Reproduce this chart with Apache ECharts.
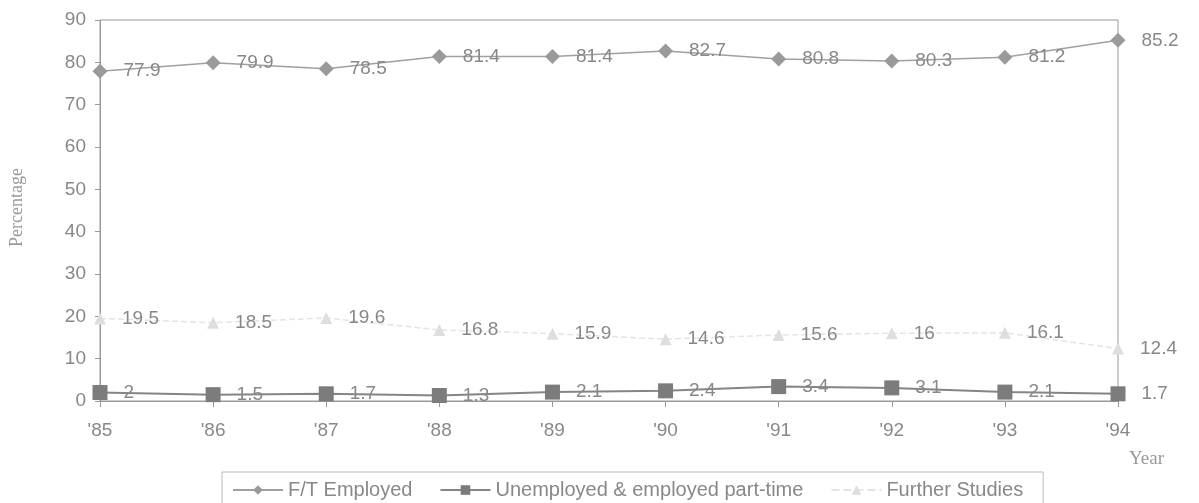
<!DOCTYPE html>
<html>
<head>
<meta charset="utf-8">
<script src="https://cdn.jsdelivr.net/npm/echarts@6/dist/echarts.min.js"></script>
<style>
html,body{margin:0;padding:0;background:#fff;}
#chart{width:1199px;height:503px;}
</style>
</head>
<body>
<div id="chart"></div>
<script>
var years = ["'85","'86","'87","'88","'89","'90","'91","'92","'93","'94"];
var ftEmployed = [77.9, 79.9, 78.5, 81.4, 81.4, 82.7, 80.8, 80.3, 81.2, 85.2];
var unemployed = [2, 1.5, 1.7, 1.3, 2.1, 2.4, 3.4, 3.1, 2.1, 1.7];
var furtherStudies = [19.5, 18.5, 19.6, 16.8, 15.9, 14.6, 15.6, 16, 16.1, 12.4];
var seriesNames = ['F/T Employed', 'Unemployed & employed part-time', 'Further Studies'];

var labelColor = '#888';
var sansFont = '"Liberation Sans", Arial, sans-serif';
var serifFont = '"Liberation Serif", "Times New Roman", serif';

function lbl() {
  return {show: true, position: 'right', distance: 16, color: labelColor, fontSize: 19, fontFamily: sansFont};
}

var chart = echarts.init(document.getElementById('chart'), null, {renderer: 'canvas'});
chart.setOption({
  animation: false,
  backgroundColor: '#fff',
  grid: {left: 100, right: 81, top: 20, bottom: 102, show: true, borderColor: '#999', borderWidth: 1, backgroundColor: 'transparent'},
  legend: {
    left: 222, top: 472,
    padding: [8, 20, 12, 10],
    itemGap: 27, itemWidth: 50, itemHeight: 12,
    borderColor: '#bbb', borderWidth: 1,
    textStyle: {color: labelColor, fontSize: 20, fontFamily: sansFont},
    data: seriesNames
  },
  xAxis: {
    type: 'category', data: years, boundaryGap: false,
    axisLine: {lineStyle: {color: '#999', width: 1}},
    axisTick: {show: true, alignWithLabel: true, length: 6, lineStyle: {color: '#999'}},
    axisLabel: {color: labelColor, fontSize: 19, fontFamily: sansFont, margin: 20},
    splitLine: {show: false}
  },
  yAxis: {
    type: 'value', min: 0, max: 90, interval: 10,
    axisLine: {show: true, lineStyle: {color: '#999', width: 1}},
    axisTick: {show: true, length: 5, lineStyle: {color: '#999'}},
    axisLabel: {color: labelColor, fontSize: 19, fontFamily: sansFont, margin: 14},
    splitLine: {show: false}
  },
  graphic: [
    {type: 'text', left: 8, top: 168, rotation: Math.PI / 2,
     style: {text: 'Percentage', fill: '#999', font: '18px ' + serifFont}},
    {type: 'text', left: 1129, top: 450,
     style: {text: 'Year', fill: '#999', font: '19px ' + serifFont}}
  ],
  series: [
    {name: seriesNames[0], type: 'line', data: ftEmployed,
     symbol: 'diamond', symbolSize: 15,
     itemStyle: {color: '#9a9a9a'}, lineStyle: {color: '#a0a0a0', width: 1.5},
     label: lbl(), z: 3},
    {name: seriesNames[1], type: 'line', data: unemployed,
     symbol: 'rect', symbolSize: 15,
     itemStyle: {color: '#7c7c7c'}, lineStyle: {color: '#858585', width: 2},
     label: lbl(), z: 4},
    {name: seriesNames[2], type: 'line', data: furtherStudies,
     symbol: 'triangle', symbolSize: 12,
     itemStyle: {color: '#dedede'}, lineStyle: {color: '#e4e4e4', width: 1.5, type: 'dashed'},
     label: lbl(), z: 2}
  ]
});
</script>
</body>
</html>
